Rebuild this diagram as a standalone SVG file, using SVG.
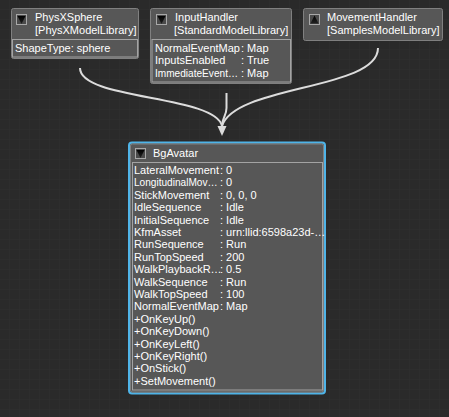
<svg xmlns="http://www.w3.org/2000/svg" width="449" height="417" viewBox="0 0 449 417">
<defs>
<pattern id="grid" width="10" height="10" patternUnits="userSpaceOnUse">
<rect width="10" height="10" fill="#2a2a2a"/>
<path d="M10 0V10H0" fill="none" stroke="#2f2f2f" stroke-width="1"/>
</pattern>
<linearGradient id="tri" x1="0" y1="0" x2="0" y2="1">
<stop offset="0" stop-color="#000"/>
<stop offset="1" stop-color="#222"/>
</linearGradient>
</defs>
<style>
.node{fill:#575757;stroke:#808080;stroke-width:1}
.sel{fill:#575757;stroke:#4fb4e8;stroke-width:2}
.props{fill:#575757;stroke:#a3a3a3;stroke-width:1}
.icon{fill:#4a4a4a;stroke:#a8a8a8;stroke-width:1}
.t{font-family:"Liberation Sans",Arial,sans-serif;font-size:11px;fill:#ffffff}
.tr{font-size:10.1px}
.conn{fill:none;stroke:#dcdcdc;stroke-width:2}
</style>
<rect width="449" height="417" fill="url(#grid)"/>

<g id="connectors">
<path class="conn" d="M80,68 C80,100 215,95 222,126"/>
<path class="conn" d="M378,48 C378,90 235,85 222,126"/>
<path class="conn" d="M226.5,93 L226.5,108 C226.5,116 222,118 222,126"/>
<path d="M217.5,126 L226.5,126 L222,136 Z" fill="#dcdcdc"/>
</g>

<g id="PhysXSphere">
<rect class="node" x="11.5" y="8.5" width="127" height="50" rx="2"/>
<rect class="icon" x="16.5" y="14.5" width="10" height="10"/>
<path d="M17.5,16 L25.5,16 L21.5,24 Z" fill="url(#tri)"/>
<text class="t" x="35" y="21">PhysXSphere</text>
<text class="t" x="35" y="34">[PhysXModelLibrary]</text>
<rect class="props" x="12.5" y="39.5" width="125" height="17.5"/>
<text class="t" x="15" y="52">ShapeType: sphere</text>
</g>

<g id="InputHandler">
<rect class="node" x="150.5" y="8.5" width="141" height="75" rx="2"/>
<rect class="icon" x="156.5" y="14.5" width="10" height="10"/>
<path d="M157.5,16 L165.5,16 L161.5,24 Z" fill="url(#tri)"/>
<text class="t" x="175" y="21">InputHandler</text>
<text class="t" x="174" y="34">[StandardModelLibrary]</text>
<rect class="props" x="152" y="39.5" width="138.5" height="42.5"/>
<text class="t" x="155" y="51.7">NormalEventMap</text><text class="t" x="241" y="51.7">: Map</text>
<text class="t" x="155" y="64.1">InputsEnabled</text><text class="t" x="241" y="64.1">: True</text>
<text class="t tr" x="155" y="76.5">ImmediateEvent…</text><text class="t" x="241" y="76.5">: Map</text>
</g>

<g id="MovementHandler">
<rect class="node" x="303.5" y="8.5" width="139" height="32" rx="2"/>
<rect class="icon" x="309.5" y="14.5" width="10" height="10"/>
<path d="M310.5,23.5 L318.5,23.5 L314.5,15.5 Z" fill="url(#tri)"/>
<text class="t" x="327" y="21">MovementHandler</text>
<text class="t" x="327" y="34">[SamplesModelLibrary]</text>
</g>

<g id="BgAvatar">
<rect class="sel" x="129" y="142.5" width="196" height="251" rx="3"/>
<rect x="130.5" y="144" width="193" height="248" rx="2" fill="none" stroke="#808080" stroke-width="1"/>
<rect class="icon" x="135.5" y="148.5" width="10" height="10"/>
<path d="M136.5,150 L144.5,150 L140.5,158 Z" fill="url(#tri)"/>
<text class="t" x="153" y="157">BgAvatar</text>
<rect class="props" x="132.5" y="162.5" width="190" height="227.5"/>
<text class="t" x="134" y="174">LateralMovement</text><text class="t" x="220" y="174">: 0</text>
<text class="t tr" x="134" y="186.4">LongitudinalMov…</text><text class="t" x="220" y="186.4">: 0</text>
<text class="t" x="134" y="198.8">StickMovement</text><text class="t" x="220" y="198.8">: 0, 0, 0</text>
<text class="t" x="134" y="211.2">IdleSequence</text><text class="t" x="220" y="211.2">: Idle</text>
<text class="t" x="134" y="223.6">InitialSequence</text><text class="t" x="220" y="223.6">: Idle</text>
<text class="t" x="134" y="236">KfmAsset</text><text class="t" x="220" y="236" font-size="10.4px">: urn:llid:6598a23d-…</text>
<text class="t" x="134" y="248.4">RunSequence</text><text class="t" x="220" y="248.4">: Run</text>
<text class="t" x="134" y="260.8">RunTopSpeed</text><text class="t" x="220" y="260.8">: 200</text>
<text class="t" x="134" y="273.2">WalkPlaybackR…</text><text class="t" x="220" y="273.2">: 0.5</text>
<text class="t" x="134" y="285.6">WalkSequence</text><text class="t" x="220" y="285.6">: Run</text>
<text class="t" x="134" y="298">WalkTopSpeed</text><text class="t" x="220" y="298">: 100</text>
<text class="t" x="134" y="310.4">NormalEventMap</text><text class="t" x="220" y="310.4">: Map</text>
<text class="t" x="134" y="322.8">+OnKeyUp()</text>
<text class="t" x="134" y="335.2">+OnKeyDown()</text>
<text class="t" x="134" y="347.6">+OnKeyLeft()</text>
<text class="t" x="134" y="360">+OnKeyRight()</text>
<text class="t" x="134" y="372.4">+OnStick()</text>
<text class="t" x="134" y="384.8">+SetMovement()</text>
</g>
</svg>
